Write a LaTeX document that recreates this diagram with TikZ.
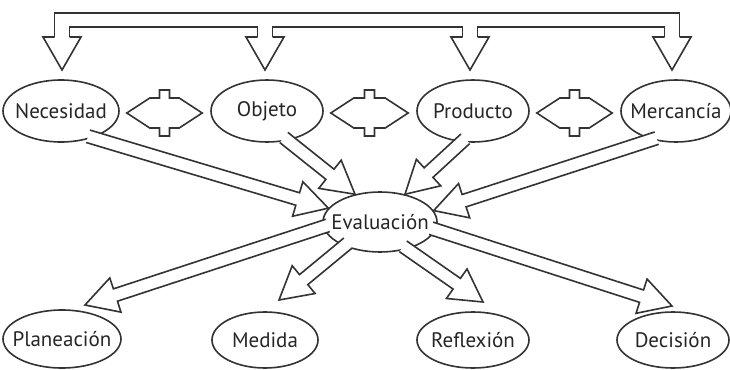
\documentclass[tikz,border=0pt]{standalone}
\usepackage{fontspec}
\newfontfamily\ptsans{PT Sans}
\usetikzlibrary{shapes.geometric,calc}

\tikzset{
  elip/.style={ellipse, draw=black!80, line width=0.8pt, inner sep=0pt,
    minimum width=56pt, minimum height=31pt, text=black!85,
    font=\ptsans\fontsize{10.5}{12}\selectfont},
  hollow/.style={draw=black!80, line width=0.8pt, line join=miter}
}
\def\arrshaft{3.25pt}
\def\arrhead{9pt}
\def\arrlen{16pt}
% label that does not widen its ellipse
\newcommand{\lbl}[1]{\makebox[0pt]{#1}}

% hollow block arrow from #1 to #2
\newcommand{\blockarrow}[2]{%
  \coordinate (ba-s) at ($(#1)!-2.5pt!(#2)$);
  \coordinate (ba-e) at (#2);
  \fill[white] ($(ba-s)!\arrshaft!90:(ba-e)$)
    -- ($(ba-e)!\arrlen!(ba-s)!\arrshaft!-90:(ba-s)$)
    -- ($(ba-e)!\arrlen!(ba-s)!\arrhead!-90:(ba-s)$)
    -- (ba-e)
    -- ($(ba-e)!\arrlen!(ba-s)!\arrhead!90:(ba-s)$)
    -- ($(ba-e)!\arrlen!(ba-s)!\arrshaft!90:(ba-s)$)
    -- ($(ba-s)!\arrshaft!-90:(ba-e)$) -- cycle;
  \draw[hollow] ($(ba-s)!\arrshaft!90:(ba-e)$)
    -- ($(ba-e)!\arrlen!(ba-s)!\arrshaft!-90:(ba-s)$)
    -- ($(ba-e)!\arrlen!(ba-s)!\arrhead!-90:(ba-s)$)
    -- (ba-e)
    -- ($(ba-e)!\arrlen!(ba-s)!\arrhead!90:(ba-s)$)
    -- ($(ba-e)!\arrlen!(ba-s)!\arrshaft!90:(ba-s)$)
    -- ($(ba-s)!\arrshaft!-90:(ba-e)$);
}

% hollow double arrow between two ellipses
\newcommand{\dblarrow}[2]{%
  \coordinate (da-l) at ($(#1.east)+(7,2)$);
  \coordinate (da-r) at ($(#2.west)+(-8,2)$);
  \coordinate (da-m) at ($(da-l)!.5!(da-r)$);
  \draw[hollow] (da-l) -- ($(da-l)+(23,-15)$) -- ($(da-m)+(-5,-15)$)
    -- ++(0,-8) -- ++(10,0) -- ++(0,8) -- ($(da-r)+(-23,-15)$) -- (da-r)
    -- ($(da-r)+(-23,15)$) -- ($(da-m)+(5,15)$) -- ++(0,8) -- ++(-10,0)
    -- ++(0,-8) -- ($(da-l)+(23,15)$) -- cycle;
}

\begin{document}
\begin{tikzpicture}[x=0.5pt,y=-0.5pt]
\useasboundingbox (0,0) rectangle (730,370);

% top bracket
\draw[hollow] (54.5,37) -- (54.5,13) -- (679.5,13) -- (679.5,37);
\draw[hollow] (69.5,37) -- (69.5,27) -- (257.5,27) -- (257.5,37);
\draw[hollow] (272.5,37) -- (272.5,27) -- (462.5,27) -- (462.5,37);
\draw[hollow] (477.5,37) -- (477.5,27) -- (664.5,27) -- (664.5,37);
\foreach \x in {62,265,470,672}
  \draw[hollow] (\x-7.5,37) -- (\x-19,37) -- (\x,70) -- (\x+19,37) -- (\x+7.5,37);

% nodes
\node[elip, minimum width=58pt] (nec) at (61,111) {\lbl{Necesidad}};
\node[elip] (obj) at (267,111) {\lbl{Objeto}};
\node[elip] (pro) at (473,111) {\lbl{Producto}};
\node[elip, minimum width=55pt] (mer) at (676,111) {\lbl{Mercancía}};
\node[elip, minimum width=57pt, minimum height=30pt] (eva) at (380,222) {\lbl{Evaluación}};
\node[elip, minimum width=59pt, minimum height=29pt] (pla) at (62,339) {\lbl{Planeación}};
\node[elip, minimum width=53pt, minimum height=28pt] (med) at (265,340) {\lbl{Medida}};
\node[elip, minimum height=28pt] (ref) at (473,340) {\lbl{Reflexión}};
\node[elip, minimum height=28pt] (dec) at (673,340) {\lbl{Decisión}};

\coordinate (pla-in) at (85,305);
\coordinate (med-in) at (279,300);
\coordinate (ref-in) at (483,302);
\coordinate (dec-in) at (672,306);

% double arrows
\dblarrow{nec}{obj}
\dblarrow{obj}{pro}
\dblarrow{pro}{mer}

% into evaluacion
\blockarrow{nec.-40}{eva.165}
\blockarrow{obj.-55}{eva.132}
\blockarrow{pro.-110}{eva.48}
\blockarrow{mer.-130}{eva.12}

% out of evaluacion
\blockarrow{eva.185}{pla-in}
\blockarrow{eva.214}{med-in}
\blockarrow{eva.-45}{ref-in}
\blockarrow{eva.-8}{dec-in}

\end{tikzpicture}
\end{document}
